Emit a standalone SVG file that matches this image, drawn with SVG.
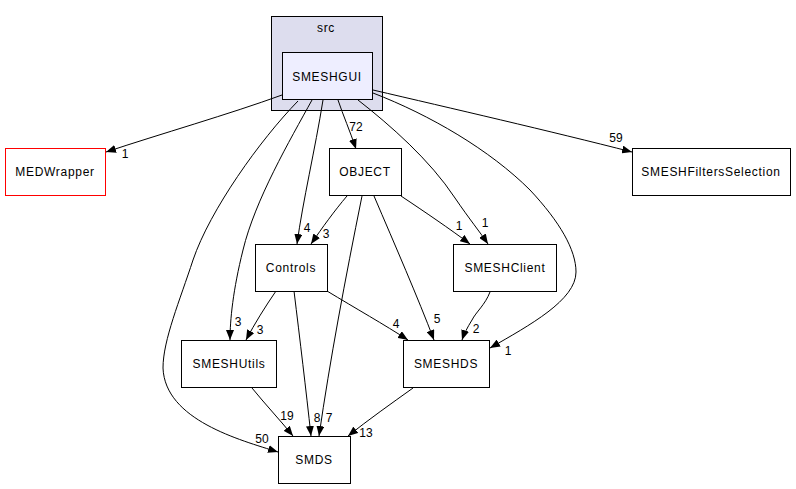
<svg xmlns="http://www.w3.org/2000/svg" width="796" height="489" viewBox="0 0 796 489">
<style>
text{font-family:"Liberation Sans",Arial,sans-serif;font-size:12px;letter-spacing:0.7px;fill:#000}
.n{text-anchor:middle}
.box{fill:#fff;stroke:#000;stroke-width:1}
.e{fill:none;stroke:#000;stroke-width:1;marker-end:url(#ah)}
.l{text-anchor:middle;letter-spacing:0}
</style>
<defs>
<marker id="ah" markerUnits="userSpaceOnUse" markerWidth="11" markerHeight="8" refX="10" refY="4" orient="auto">
<path d="M0,0 L10,4 L0,8 z" fill="#000"/>
</marker>
</defs>
<rect width="796" height="489" fill="#fff"/>
<g id="cluster_src">
<rect x="271.5" y="16.5" width="111" height="94" fill="#ddddee" stroke="#000"/>
<text class="n" x="326" y="32">src</text>
</g>
<g id="SMESHGUI">
<rect x="282.5" y="52.5" width="90" height="47" fill="#eeeeff" stroke="#000"/>
<text class="n" x="327" y="81">SMESHGUI</text>
</g>
<g id="MEDWrapper">
<rect x="5.5" y="148.5" width="100" height="47" fill="#fff" stroke="#ff0000"/>
<text class="n" x="55" y="176">MEDWrapper</text>
</g>
<g id="SMESHFiltersSelection">
<rect class="box" x="632.5" y="148.5" width="158" height="47"/>
<text class="n" x="711" y="176">SMESHFiltersSelection</text>
</g>
<g id="OBJECT">
<rect class="box" x="329.5" y="148.5" width="72" height="47"/>
<text class="n" x="365" y="176">OBJECT</text>
</g>
<g id="Controls">
<rect class="box" x="255.5" y="244.5" width="72" height="47"/>
<text class="n" x="291" y="272">Controls</text>
</g>
<g id="SMESHClient">
<rect class="box" x="453.5" y="244.5" width="103" height="47"/>
<text class="n" x="505" y="272">SMESHClient</text>
</g>
<g id="SMESHUtils">
<rect class="box" x="181.5" y="340.5" width="95" height="47"/>
<text class="n" x="229" y="368">SMESHUtils</text>
</g>
<g id="SMESHDS">
<rect class="box" x="403.5" y="340.5" width="86" height="47"/>
<text class="n" x="446" y="368">SMESHDS</text>
</g>
<g id="SMDS">
<rect class="box" x="278.5" y="436.5" width="72" height="47"/>
<text class="n" x="314" y="464">SMDS</text>
</g>
<g id="edges">
<path class="e" d="M282,95 C230,114 160,134 106,152"/>
<text class="l" x="125" y="158">1</text>
<path class="e" d="M373,90 C450,108 550,131 632,152"/>
<text class="l" x="616" y="142">59</text>
<path class="e" d="M338,100 C343,115 350,131 356,149"/>
<text class="l" x="356" y="131">72</text>
<path class="e" d="M323,100 C315,150 303,200 297,244"/>
<text class="l" x="307" y="232">4</text>
<path class="e" d="M358,100 C390,125 430,160 455,198 C470,220 480,232 488,244"/>
<text class="l" x="485" y="227">1</text>
<path class="e" d="M373,93 C430,115 490,150 530,190 C560,222 576,250 576,272 C576,300 530,325 490,348"/>
<text class="l" x="508" y="355">1</text>
<path class="e" d="M312,100 C290,140 255,200 243,250 C233,290 230,320 230,340"/>
<text class="l" x="238" y="326">3</text>
<path class="e" d="M298,101 C260,140 210,210 193,260 C180,300 163,340 163,368 C165,420 240,440 278,452"/>
<text class="l" x="262" y="443">50</text>
<path class="e" d="M347,196 C335,210 322,228 311,244"/>
<text class="l" x="326" y="238">3</text>
<path class="e" d="M401,196 C425,212 450,229 470,244"/>
<text class="l" x="459" y="230">1</text>
<path class="e" d="M374,196 C395,245 418,298 434,340"/>
<text class="l" x="437" y="323">5</text>
<path class="e" d="M362,196 C345,280 330,360 319,436"/>
<text class="l" x="329" y="422">7</text>
<path class="e" d="M276,291 C265,307 255,323 246,340"/>
<text class="l" x="260" y="334">3</text>
<path class="e" d="M327,291 C355,308 385,325 408,340"/>
<text class="l" x="396" y="328">4</text>
<path class="e" d="M294,291 C300,340 306,390 311,436"/>
<text class="l" x="317" y="422">8</text>
<path class="e" d="M490,292 C485,305 476,312 472,320 C467,328 464,334 462,340"/>
<text class="l" x="476" y="333">2</text>
<path class="e" d="M252,388 C265,404 280,420 293,436"/>
<text class="l" x="287" y="420">19</text>
<path class="e" d="M413,388 C392,403 368,420 348,436"/>
<text class="l" x="366" y="437">13</text>
</g>
</svg>
